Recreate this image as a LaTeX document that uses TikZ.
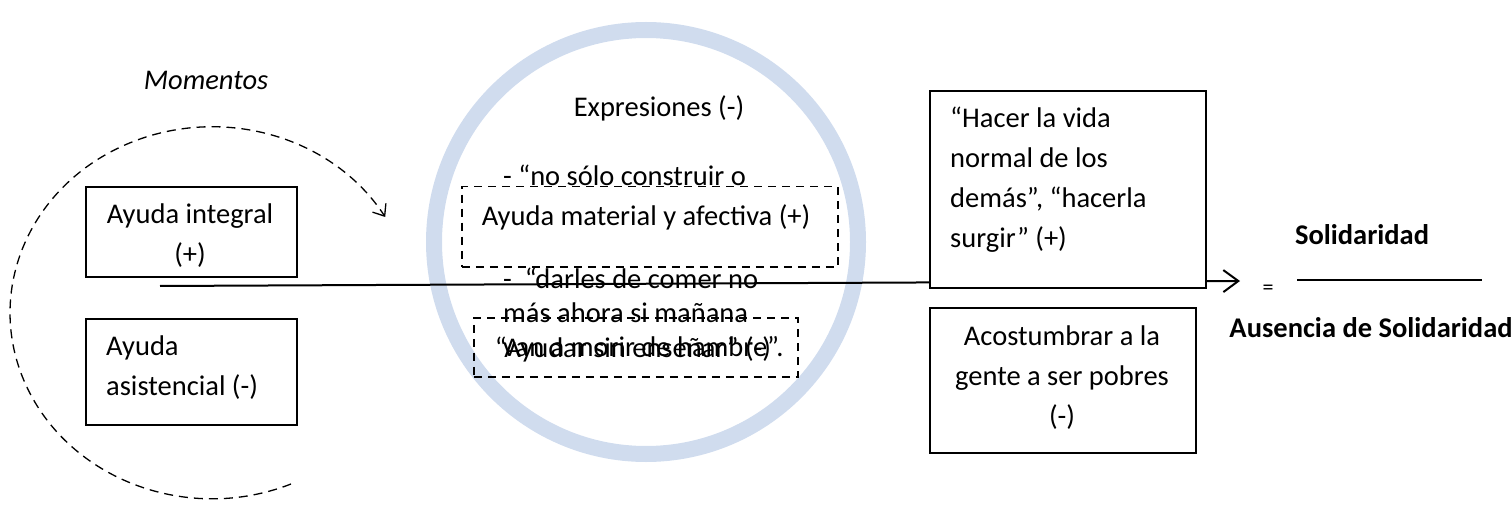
\documentclass[tikz,border=0pt]{standalone}
\usepackage{fontspec}
\setmainfont{Carlito}
\usetikzlibrary{arrows.meta}
\definecolor{ringblue}{RGB}{208,220,238}

\begin{document}
\begin{tikzpicture}[x=1pt,y=-1pt,
  every node/.style={font=\fontsize{28.5}{40}\selectfont,inner sep=0pt},
  solidbox/.style={draw,line width=2pt,fill=white,anchor=north west},
  dashbox/.style={draw,line width=1.5pt,dash pattern=on 8pt off 6pt,anchor=north west}]
\useasboundingbox (0,0) rectangle (1512,505);
\node[draw=ringblue,line width=16pt,circle,minimum size=424pt] (ring) at (646,242) {};
\node[dashbox,fill=white,minimum width=376pt,minimum height=80pt] (material) at (461,186) {};
\node[dashbox,minimum width=324pt,minimum height=59pt] (ensenar) at (473,317) {};
\node (momentos) at (206,80) {\itshape Momentos};
\node (expresiones) at (659,108) {Expresiones (-)};
\node[anchor=west] (construir) at (503,175) {- “no sólo construir o};
\node (materialtxt) at (646,217) {Ayuda material y afectiva (+)};
\node[anchor=north west,align=left,font=\fontsize{28.5}{34}\selectfont] (darles) at (503,268) {-~~“darles de comer no\\más ahora si mañana\\van a morir de hambre”.};
\node (ensenartxt) at (633,349) {“Ayudar sin enseñar” (-)};
\node[solidbox,minimum width=211pt,minimum height=90pt] (integral) at (85,186) {};
\node[anchor=north,align=center] (integraltxt) at (190,204) {Ayuda integral\\(+)};
\node[solidbox,minimum width=211pt,minimum height=106pt] (asistencial) at (85,318) {};
\node[anchor=north west,align=left] (asistencialtxt) at (106,336) {Ayuda\\asistencial (-)};
\coordinate (cyclestart) at (291,484);
\draw[line width=1.3pt,dash pattern=on 9pt off 6pt,-{Straight Barb[length=10pt,width=16pt]}] (cyclestart) arc[start angle=-67,end angle=-329,x radius=202pt,y radius=186pt];
\coordinate (linestart) at (160,286);
\coordinate (lineend) at (1240,281);
\draw[line width=2pt,-{Straight Barb[length=15pt,width=22pt]}] (linestart) -- (lineend);
\node[solidbox,minimum width=276pt,minimum height=197pt] (hacer) at (929,90) {};
\node[anchor=north west,align=left] (hacertxt) at (950,107) {“Hacer la vida\\normal de los\\demás”, “hacerla\\surgir” (+)};
\node[solidbox,minimum width=266pt,minimum height=145pt] (acostumbrar) at (929,307) {};
\node[anchor=north,align=center] (acostumbrartxt) at (1062,326) {Acostumbrar a la\\gente a ser pobres\\(-)};
\node[font=\fontsize{22}{26}\selectfont] (igual) at (1268,290) {=};
\node[font=\fontsize{28.5}{40}\selectfont\bfseries] (solidaridad) at (1362,235) {Solidaridad};
\node[font=\fontsize{28.5}{40}\selectfont\bfseries] (ausencia) at (1371,328) {Ausencia de Solidaridad};
\coordinate (fracleft) at (1297,280);
\coordinate (fracright) at (1482,280);
\draw[line width=2pt] (fracleft) -- (fracright);
\end{tikzpicture}
\end{document}
